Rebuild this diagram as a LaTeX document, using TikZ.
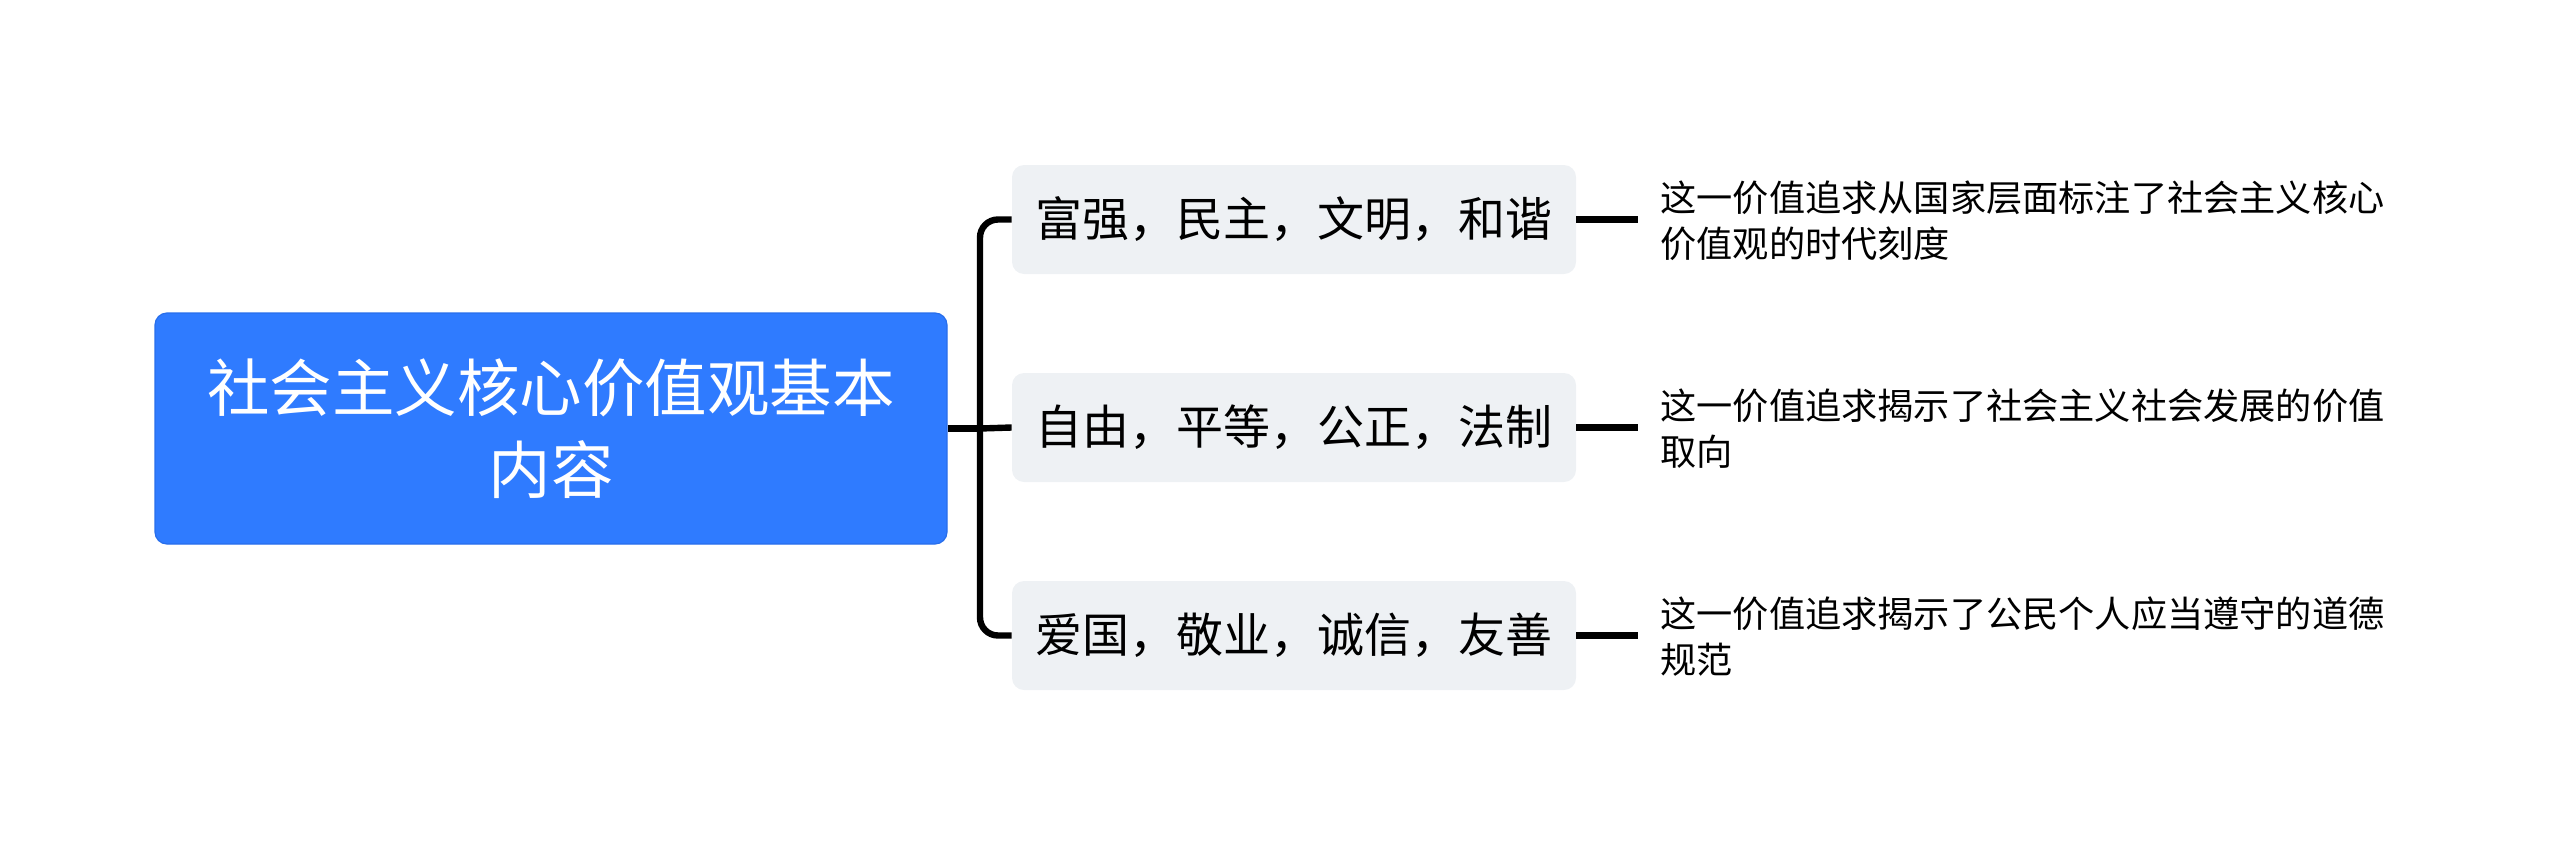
\documentclass[tikz,border=0pt]{standalone}
\usepackage{fontspec}
\setmainfont{Noto Sans CJK SC}
\definecolor{rootblue}{RGB}{47,123,255}
\definecolor{rootedge}{RGB}{40,110,235}
\definecolor{midgrey}{RGB}{238,241,244}
\begin{document}
\begin{tikzpicture}[x=0.5pt,y=-0.5pt,
  rootbox/.style={draw=rootedge,line width=0.6pt,fill=rootblue,rounded corners=6pt,
    minimum width=396pt,minimum height=115.5pt,inner sep=0pt,align=center,text=white,
    font=\fontsize{31.25pt}{41pt}\selectfont},
  midbox/.style={fill=midgrey,rounded corners=6pt,minimum width=282pt,minimum height=54.5pt,
    inner sep=0pt,align=center,text=black,font=\fontsize{23.5pt}{28pt}\selectfont},
  leafbox/.style={anchor=west,inner xsep=11pt,inner ysep=0pt,align=left,text=black,
    font=\fontsize{18.1pt}{23pt}\selectfont},
  conn/.style={draw=black,line width=3.2pt}]
\useasboundingbox (0,0) rectangle (2560,857);
\node[rootbox] (root) at (551,428.5) {社会主义核心价值观基本\\内容};
\node[midbox] (m1) at (1294,219.5) {富强，民主，文明，和谐};
\node[midbox] (m2) at (1294,427.5) {自由，平等，公正，法制};
\node[midbox] (m3) at (1294,635.5) {爱国，敬业，诚信，友善};
\node[leafbox] (l1) at (1638,221) {这一价值追求从国家层面标注了社会主义核心\\价值观的时代刻度};
\node[leafbox] (l2) at (1638,429) {这一价值追求揭示了社会主义社会发展的价值\\取向};
\node[leafbox] (l3) at (1638,637) {这一价值追求揭示了公民个人应当遵守的道德\\规范};
\coordinate (j) at (980,428.5);
\draw[conn] (root.east) -- (j);
\draw[conn,rounded corners=9pt] (j) |- (m1.west);
\draw[conn,rounded corners=9pt] (j) |- (m3.west);
\draw[conn] (j) -- (m2.west);
\draw[conn] (m1.east) -- (m1.east -| l1.west);
\draw[conn] (m2.east) -- (m2.east -| l2.west);
\draw[conn] (m3.east) -- (m3.east -| l3.west);
\end{tikzpicture}
\end{document}
